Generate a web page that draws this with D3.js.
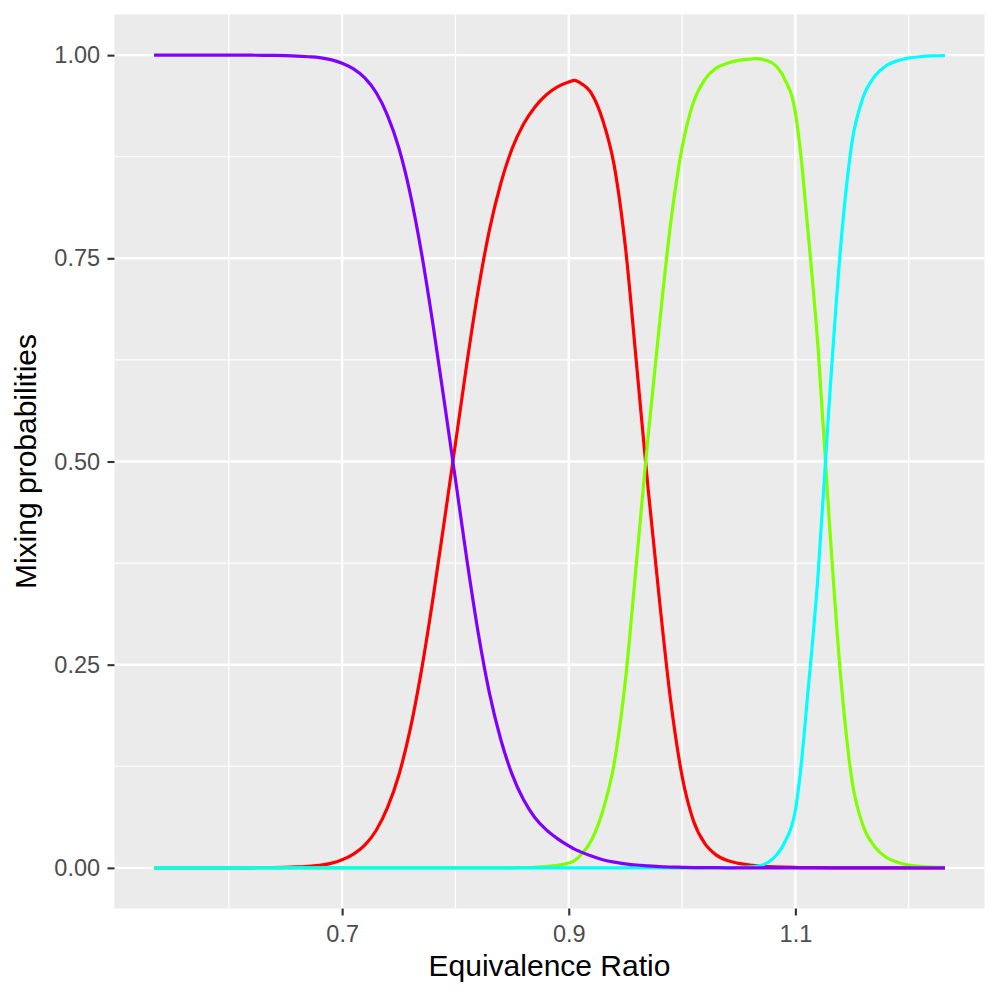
<!DOCTYPE html>
<html>
<head>
<meta charset="utf-8">
<script src="https://cdn.jsdelivr.net/npm/d3@7"></script>
<style>
    body { margin: 0; background: #ffffff; }
    svg { display: block; font-family: "Liberation Sans", Arial, Helvetica, sans-serif; }
</style>
</head>
<body>
<div id="chart"></div>
<script>
// Equivalence ratio grid (x)
const PHI = [
    0.534, 0.54, 0.55, 0.56, 0.57, 0.58, 0.59, 0.60, 0.61, 0.62, 0.63, 0.64, 0.65, 0.66, 0.67, 0.68, 0.69,
    0.70, 0.71, 0.72, 0.73, 0.74, 0.75, 0.76, 0.77, 0.78, 0.79,
    0.80, 0.81, 0.82, 0.83, 0.84, 0.85, 0.86, 0.87, 0.88, 0.89,
    0.90, 0.905, 0.91, 0.92, 0.93, 0.94, 0.95, 0.96, 0.97, 0.98, 0.99,
    1.00, 1.01, 1.02, 1.03, 1.04, 1.05, 1.06, 1.065, 1.07, 1.08, 1.09,
    1.10, 1.105, 1.11, 1.12, 1.13, 1.14, 1.15, 1.16, 1.17, 1.18, 1.19,
    1.20, 1.21, 1.22, 1.23, 1.232
];

// Mixing probabilities, one array per component
const P_PURPLE = [
    1, 1, 1, 1, 1, 1, 1, 1, 1, 0.9999, 0.9998, 0.9996, 0.9993, 0.9988, 0.998, 0.997, 0.9945,
    0.990, 0.983, 0.972, 0.954, 0.926, 0.886, 0.830, 0.757, 0.670, 0.575,
    0.478, 0.380, 0.290, 0.215, 0.158, 0.115, 0.084, 0.062, 0.047, 0.036,
    0.027, 0.023, 0.020, 0.0145, 0.010, 0.007, 0.005, 0.0035, 0.0025, 0.0015, 0.001,
    0.0007, 0.0004, 0.0003, 0.0002, 0.0001, 0, 0, 0, 0, 0, 0,
    0, 0, 0, 0, 0, 0, 0, 0, 0, 0, 0,
    0, 0, 0, 0, 0
];

const P_RED = [
    0, 0, 0, 0, 0, 0, 0, 0, 0.0001, 0.0001, 0.0002, 0.0004, 0.0007, 0.0012, 0.002, 0.003, 0.0055,
    0.010, 0.017, 0.028, 0.046, 0.074, 0.114, 0.170, 0.243, 0.330, 0.425,
    0.522, 0.620, 0.710, 0.785, 0.842, 0.885, 0.915, 0.936, 0.951, 0.961,
    0.967, 0.969, 0.966, 0.953, 0.920, 0.865, 0.764, 0.617, 0.467, 0.330, 0.205,
    0.113, 0.058, 0.030, 0.016, 0.009, 0.0055, 0.0035, 0.0028, 0.002, 0.0013, 0.0008,
    0.0005, 0.0004, 0.0003, 0.0002, 0.0001, 0, 0, 0, 0, 0, 0,
    0, 0, 0, 0, 0
];

const P_GREEN = [
    0, 0, 0, 0, 0, 0, 0, 0, 0, 0, 0, 0, 0, 0, 0, 0, 0,
    0, 0, 0, 0, 0, 0, 0, 0, 0, 0,
    0, 0, 0, 0, 0, 0, 0.0003, 0.0007, 0.0015, 0.003,
    0.006, 0.009, 0.015, 0.034, 0.070, 0.128, 0.231, 0.380, 0.531, 0.668, 0.794,
    0.886, 0.942, 0.970, 0.984, 0.990, 0.9935, 0.9952, 0.9956, 0.995, 0.990, 0.972,
    0.929, 0.875, 0.800, 0.640, 0.425, 0.235, 0.107, 0.051, 0.026, 0.013, 0.007,
    0.0035, 0.002, 0.001, 0.0006, 0.0005
];

const P_CYAN = [
    0, 0, 0, 0, 0, 0, 0, 0, 0, 0, 0, 0, 0, 0, 0, 0, 0,
    0, 0, 0, 0, 0, 0, 0, 0, 0, 0,
    0, 0, 0, 0, 0, 0, 0, 0, 0, 0,
    0, 0, 0, 0, 0, 0, 0, 0, 0, 0, 0,
    0, 0, 0, 0, 0, 0.0005, 0.0012, 0.002, 0.003, 0.011, 0.030,
    0.071, 0.125, 0.200, 0.360, 0.575, 0.765, 0.893, 0.949, 0.974, 0.987, 0.993,
    0.9965, 0.998, 0.999, 0.9994, 0.9995
];

// draw order as in the original (purple ends up on top)
const SERIES_NAMES = ["red", "green", "cyan", "purple"];
const SERIES_VALUES = [P_RED, P_GREEN, P_CYAN, P_PURPLE];
const SERIES_COLORS = ["#FF0000", "#80FF00", "#00FFFF", "#8000FF"];

const X_TICKS = [0.7, 0.9, 1.1];
const X_MINOR = [0.6, 0.8, 1.0, 1.2];
const Y_TICKS = [0, 0.25, 0.5, 0.75, 1];
const Y_MINOR = [0.125, 0.375, 0.625, 0.875];

const X_TITLE = "Equivalence Ratio";
const Y_TITLE = "Mixing probabilities";

function render() {
    const W = 1000, H = 1000;
    const panel = { left: 114.5, right: 984.5, top: 14.5, bottom: 908.5 };

    const svg = d3.select("#chart")
        .append("svg")
        .attr("width", W)
        .attr("height", H);

    // ggplot-style 5% expansion on both axes
    const xExt = d3.extent(PHI);
    const xPad = (xExt[1] - xExt[0]) * 0.05;
    const x = d3.scaleLinear()
        .domain([xExt[0] - xPad, xExt[1] + xPad])
        .range([panel.left, panel.right]);

    const y = d3.scaleLinear()
        .domain([-0.05, 1.05])
        .range([panel.bottom, panel.top]);

    // panel background
    svg.append("rect")
        .attr("x", panel.left)
        .attr("y", panel.top)
        .attr("width", panel.right - panel.left)
        .attr("height", panel.bottom - panel.top)
        .attr("fill", "#EBEBEB");

    const grid = svg.append("g");

    // minor grid
    grid.selectAll(".xminor")
        .data(X_MINOR)
        .join("line")
        .attr("x1", d => x(d)).attr("x2", d => x(d))
        .attr("y1", panel.top).attr("y2", panel.bottom)
        .attr("stroke", "#ffffff").attr("stroke-width", 1.2);

    grid.selectAll(".yminor")
        .data(Y_MINOR)
        .join("line")
        .attr("y1", d => y(d)).attr("y2", d => y(d))
        .attr("x1", panel.left).attr("x2", panel.right)
        .attr("stroke", "#ffffff").attr("stroke-width", 1.2);

    // major grid
    grid.selectAll(".xmajor")
        .data(X_TICKS)
        .join("line")
        .attr("x1", d => x(d)).attr("x2", d => x(d))
        .attr("y1", panel.top).attr("y2", panel.bottom)
        .attr("stroke", "#ffffff").attr("stroke-width", 2.4);

    grid.selectAll(".ymajor")
        .data(Y_TICKS)
        .join("line")
        .attr("y1", d => y(d)).attr("y2", d => y(d))
        .attr("x1", panel.left).attr("x2", panel.right)
        .attr("stroke", "#ffffff").attr("stroke-width", 2.4);

    // curves
    const line = d3.line()
        .x(d => x(d[0]))
        .y(d => y(d[1]))
        .curve(d3.curveMonotoneX);

    SERIES_VALUES.forEach((vals, i) => {
        svg.append("path")
            .datum(PHI.map((p, j) => [p, vals[j]]))
            .attr("class", "series " + SERIES_NAMES[i])
            .attr("fill", "none")
            .attr("stroke", SERIES_COLORS[i])
            .attr("stroke-width", 3.2)
            .attr("stroke-linejoin", "round")
            .attr("d", line);
    });

    // axes
    const xAxis = svg.append("g")
        .attr("transform", `translate(0,${panel.bottom})`)
        .call(d3.axisBottom(x).tickValues(X_TICKS).tickSize(7).tickPadding(9.5).tickFormat(d3.format(".1f")));

    const yAxis = svg.append("g")
        .attr("transform", `translate(${panel.left},0)`)
        .call(d3.axisLeft(y).tickValues(Y_TICKS).tickSize(7).tickPadding(7.4).tickFormat(d3.format(".2f")));

    [xAxis, yAxis].forEach(ax => {
        ax.select(".domain").remove();
        ax.selectAll(".tick line").attr("stroke", "#333333").attr("stroke-width", 2.1);
        ax.selectAll(".tick text")
            .attr("fill", "#4D4D4D")
            .style("font-size", "23.5px")
            .style("font-family", "'Liberation Sans', Arial, Helvetica, sans-serif");
    });

    // titles
    svg.append("text")
        .attr("x", (panel.left + panel.right) / 2)
        .attr("y", 976)
        .attr("text-anchor", "middle")
        .style("font-size", "30px")
        .attr("fill", "#000000")
        .text(X_TITLE);

    svg.append("text")
        .attr("transform", `translate(36,${(panel.top + panel.bottom) / 2}) rotate(-90)`)
        .attr("text-anchor", "middle")
        .style("font-size", "30px")
        .attr("fill", "#000000")
        .text(Y_TITLE);
}

render();
</script>
</body>
</html>
